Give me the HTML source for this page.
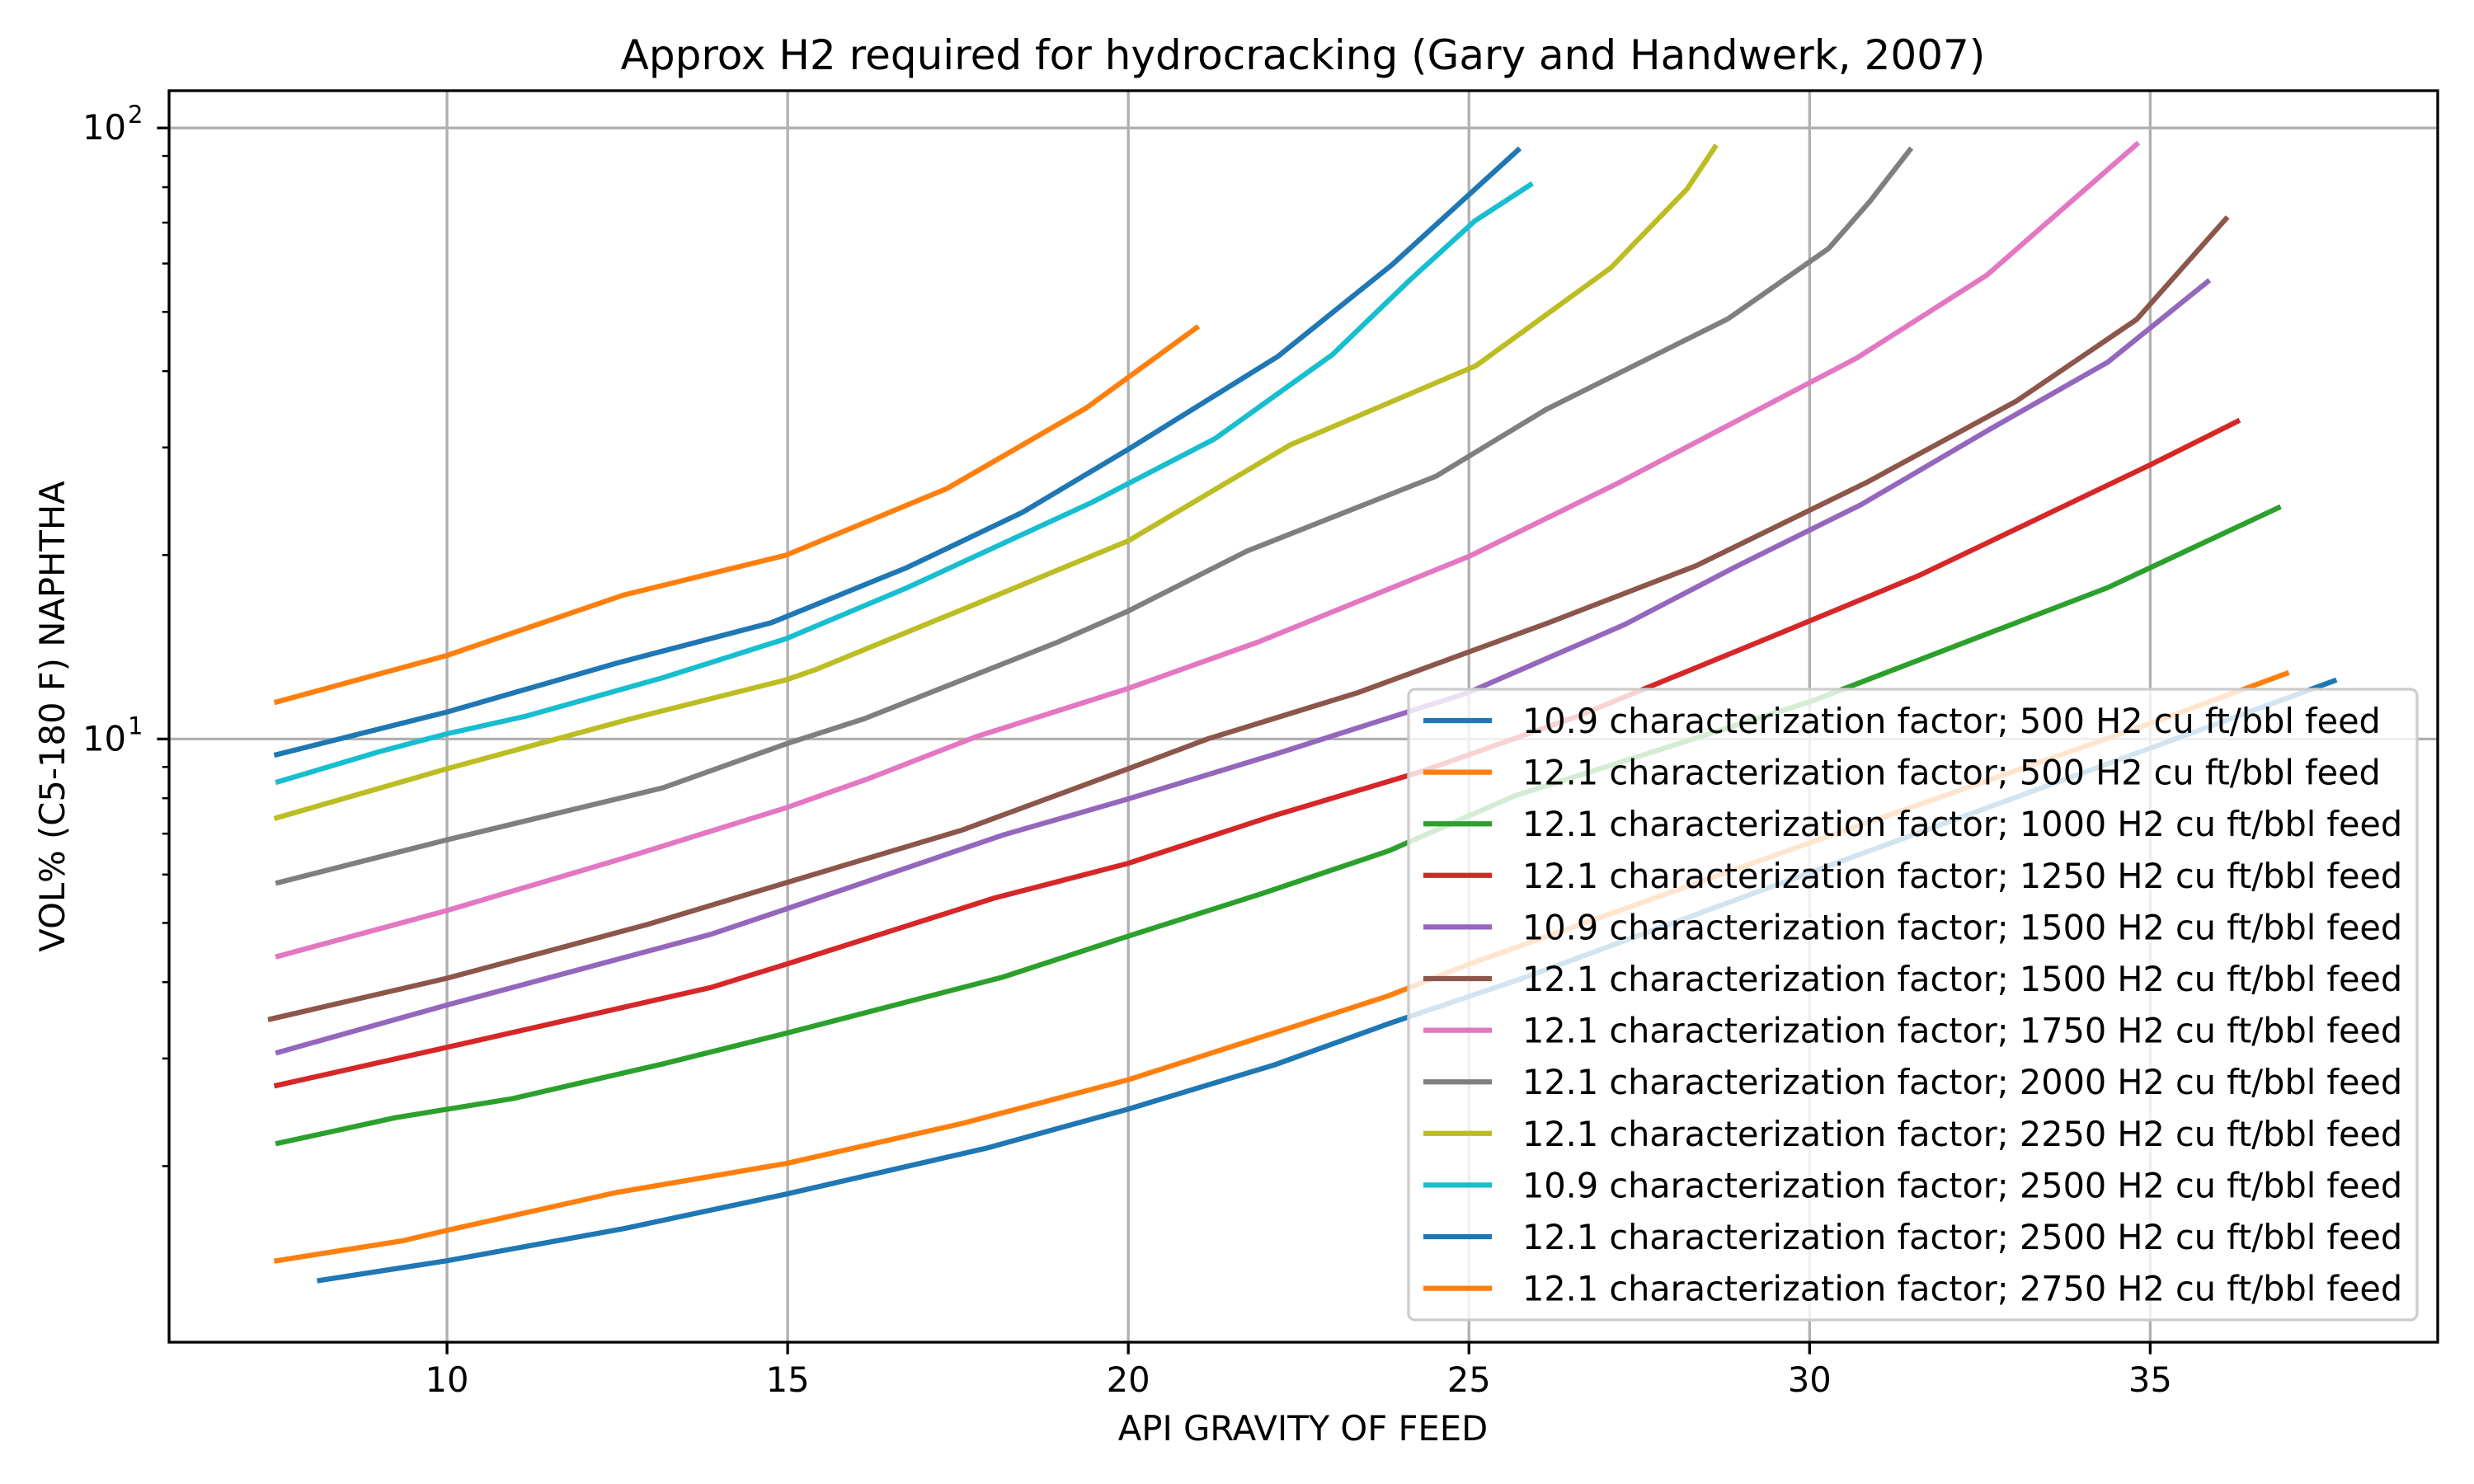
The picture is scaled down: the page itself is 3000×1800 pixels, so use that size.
<!DOCTYPE html>
<html><head><meta charset="utf-8"><style>
html,body{margin:0;padding:0;background:#fff;}
svg{display:block;font-family:"DejaVu Sans","Liberation Sans",sans-serif;}
</style></head><body>
<svg id="chart" width="3000" height="1800" viewBox="0 0 3000 1800" xmlns="http://www.w3.org/2000/svg">
<rect width="3000" height="1800" fill="#fff"/>
<text x="1580" y="84" font-size="50" text-anchor="middle">Approx H2 required for hydrocracking (Gary and Handwerk, 2007)</text>
<g id="grid"></g>
<g id="series"></g>
<g id="axes"></g>
<g id="legend"></g>
<text x="1580" y="1747" font-size="41.7" text-anchor="middle">API GRAVITY OF FEED</text>
<text x="0" y="0" font-size="41.7" text-anchor="middle" transform="translate(78,869) rotate(-90)">VOL% (C5-180 F) NAPHTHA</text>
</svg>
<script>
const seriesLabels = [
 "10.9 characterization factor; 500 H2 cu ft/bbl feed",
 "12.1 characterization factor; 500 H2 cu ft/bbl feed",
 "12.1 characterization factor; 1000 H2 cu ft/bbl feed",
 "12.1 characterization factor; 1250 H2 cu ft/bbl feed",
 "10.9 characterization factor; 1500 H2 cu ft/bbl feed",
 "12.1 characterization factor; 1500 H2 cu ft/bbl feed",
 "12.1 characterization factor; 1750 H2 cu ft/bbl feed",
 "12.1 characterization factor; 2000 H2 cu ft/bbl feed",
 "12.1 characterization factor; 2250 H2 cu ft/bbl feed",
 "10.9 characterization factor; 2500 H2 cu ft/bbl feed",
 "12.1 characterization factor; 2500 H2 cu ft/bbl feed",
 "12.1 characterization factor; 2750 H2 cu ft/bbl feed"
];
const colors = ["#1f77b4","#ff7f0e","#2ca02c","#d62728","#9467bd","#8c564b","#e377c2","#7f7f7f","#bcbd22","#17becf","#1f77b4","#ff7f0e"];
const s1x = [8.13,10,12.59,14.98,17.92,20.0,22.15,23.82,25.79,30,35,37.7];
const s1y = [1.30,1.40,1.58,1.80,2.14,2.48,2.93,3.42,4.06,6.04,9.66,12.45];
const s2x = [7.5,9.35,10,12.48,14.98,17.57,20.0,22.2,23.82,25.0,30,35,37.0];
const s2y = [1.40,1.51,1.57,1.81,2.02,2.35,2.77,3.32,3.80,4.28,6.76,10.6,12.8];
const s3x = [7.52,9.24,10.97,13.17,14.98,18.17,19.93,21.97,23.82,25.67,30.0,34.38,36.88];
const s3y = [2.18,2.40,2.58,2.94,3.30,4.08,4.73,5.59,6.56,8.07,11.5,17.7,23.9];
const s4x = [7.5,10.39,13.87,14.98,18.03,20.0,22.1,24.28,26.6,29.44,31.6,35.0,36.28];
const s4y = [2.71,3.20,3.92,4.28,5.49,6.26,7.47,8.83,10.9,14.7,18.5,28.1,33.1];
const s5x = [7.52,10,13.87,14.98,18.17,20.0,22.2,24.98,27.29,28.9,30.76,32.66,34.38,35.84];
const s5y = [3.07,3.67,4.79,5.27,6.97,7.98,9.48,11.9,15.4,19.1,24.2,32.2,41.4,56];
const s6x = [7.41,10,12.94,14.98,17.57,20,21.16,23.36,26.17,28.33,30.84,33.03,34.8,36.11];
const s6y = [3.48,4.06,4.97,5.82,7.10,8.94,10.0,11.9,15.5,19.2,26.3,35.7,48.6,71];
const s7x = [7.52,10,12.71,14.98,16.17,17.78,20,21.9,25.0,27.15,30.69,32.6,34.8];
const s7y = [4.41,5.24,6.44,7.72,8.6,10.1,12.1,14.4,19.9,26.1,42.0,57.4,94];
const s8x = [7.52,10,13.17,14.98,16.13,18.96,20,21.74,24.51,26.13,28.8,30.28,30.88,31.47];
const s8y = [5.82,6.84,8.32,9.82,10.8,14.4,16.2,20.3,26.9,34.6,48.7,63.5,75.7,92];
const s9x = [7.5,10,12.71,14.98,15.42,17.8,20,22.38,25.1,27.08,28.2,28.61];
const s9y = [7.43,8.94,10.8,12.5,13.0,16.7,21.1,30.3,40.8,59.0,79.4,93];
const s10x = [7.52,9.0,10,11.16,13.17,14.98,16.76,19.47,21.27,23.0,24.12,25.09,25.9];
const s10y = [8.51,9.53,10.2,10.9,12.6,14.6,17.7,24.4,31.0,42.6,56.2,70.5,80.7];
const s11x = [7.5,10,12.48,14.76,16.76,18.45,20.0,22.2,23.87,25.72];
const s11y = [9.43,11.07,13.3,15.5,19.1,23.5,29.8,42.3,59.7,92];
const s12x = [7.5,10,12.59,14.98,17.34,19.38,21.0];
const s12y = [11.5,13.7,17.2,20.0,25.7,34.8,47.1];
const xTicks = [10,15,20,25,30,35];
const yMajor = [10,100];
const yMajorLabels = ["1","2"];
const yMinor = [2,3,4,5,6,7,8,9,20,30,40,50,60,70,80,90];

const XS=[s1x,s2x,s3x,s4x,s5x,s6x,s7x,s8x,s9x,s10x,s11x,s12x];
const YS=[s1y,s2y,s3y,s4y,s5y,s6y,s7y,s8y,s9y,s10y,s11y,s12y];
const L=205,R=2956,T=110,B=1628;
const xMin=5.92,xMax=39.22,yLogMin=Math.log10(1.03),yLogMax=2.061;
function sx(v){return L+(v-xMin)/(xMax-xMin)*(R-L);}
function sy(v){return B-(Math.log10(v)-yLogMin)/(yLogMax-yLogMin)*(B-T);}
const NS="http://www.w3.org/2000/svg";
function mk(tag,attrs,parent){const e=document.createElementNS(NS,tag);for(const k in attrs)e.setAttribute(k,attrs[k]);parent.appendChild(e);return e;}
const grid=document.getElementById('grid'),axes=document.getElementById('axes'),ser=document.getElementById('series'),leg=document.getElementById('legend');
xTicks.forEach(t=>{const x=sx(t);
 const g=mk('line',{x1:x,x2:x,y1:T,y2:B,stroke:'#b0b0b0','stroke-width':3.3},grid);
 
 
 const tk=mk('line',{x1:x,x2:x,y1:B,y2:B+14.6,stroke:'#000','stroke-width':3.3},axes);
 
 
 const lb=mk('text',{x:x,y:B+60,'font-size':41.7,'text-anchor':'middle'},axes);lb.textContent=t;
 
 
});
yMajor.forEach((t,i)=>{const y=sy(t);
 const g=mk('line',{x1:L,x2:R,y1:y,y2:y,stroke:'#b0b0b0','stroke-width':3.3},grid);
 
 
 const tk=mk('line',{x1:L-14.6,x2:L,y1:y,y2:y,stroke:'#000','stroke-width':3.3},axes);
 
 
 const lb=mk('text',{x:L-52,y:y+14,'font-size':41.7,'text-anchor':'end'},axes);lb.textContent='10';
 
 
 const sp=mk('text',{x:L-50,y:y-6,'font-size':29,'text-anchor':'start'},axes);sp.textContent=yMajorLabels[i];
 
 
});
yMinor.forEach(t=>{const y=sy(t);
 const tk=mk('line',{x1:L-8.3,x2:L,y1:y,y2:y,stroke:'#000','stroke-width':2.5},axes);
 
 
});
const fr=mk('rect',{x:L,y:T,width:R-L,height:B-T,fill:'none',stroke:'#000','stroke-width':3.3},axes);


XS.forEach((xs,i)=>{const pts=xs.map((x,j)=>sx(x).toFixed(1)+','+sy(YS[i][j]).toFixed(1)).join(' ');
 const p=mk('polyline',{points:pts,fill:'none',stroke:colors[i],'stroke-width':6.25,'stroke-linejoin':'round','stroke-linecap':'square'},ser);
 
 
});
const bx=mk('rect',{x:1708,y:836,width:1223,height:765,rx:8,fill:'#fff','fill-opacity':0.8,stroke:'#cccccc','stroke-width':3.3},leg);


seriesLabels.forEach((s,i)=>{const y=874+62.6*i;
 const ln=mk('line',{x1:1726,x2:1809,y1:y,y2:y,stroke:colors[i],'stroke-width':6.25},leg);
 
 
 const t=mk('text',{x:1846,y:y+15,'font-size':41.4},leg);t.textContent=s;
 
 
});
</script>
</body></html>
